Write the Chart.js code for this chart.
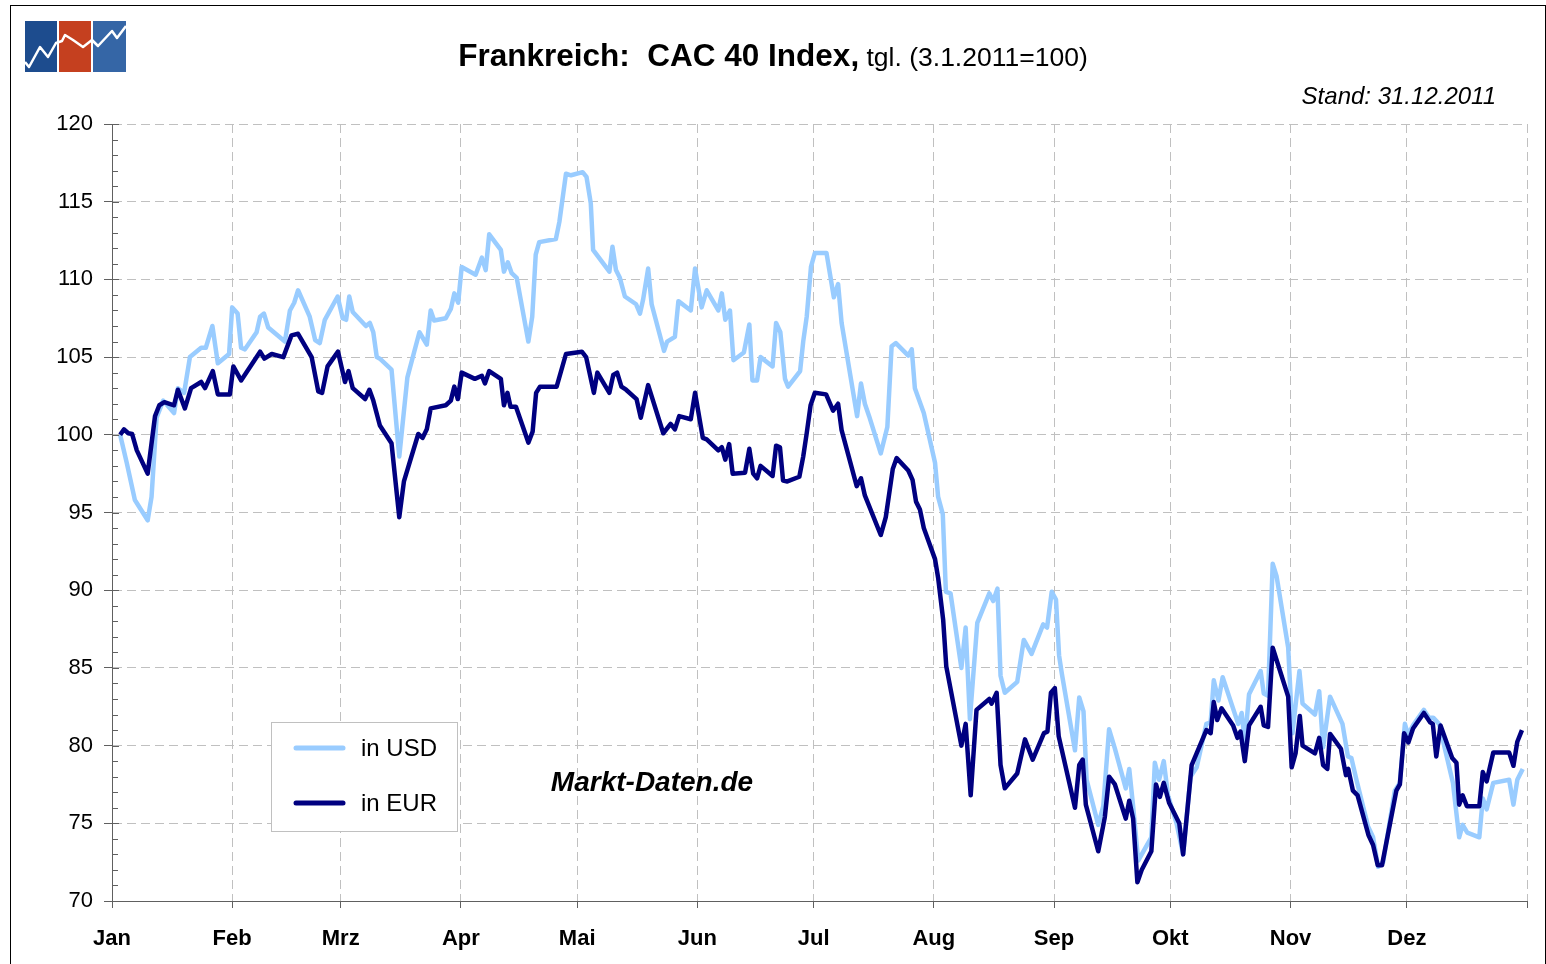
<!DOCTYPE html>
<html>
<head>
<meta charset="utf-8">
<title>CAC 40 Index 2011</title>
<script src="https://cdn.jsdelivr.net/npm/chart.js@4.4.1/dist/chart.umd.min.js"></script>
<style>
  html, body { margin: 0; padding: 0; background: #fff; overflow: hidden; }
  #wrap { position: relative; width: 1546px; height: 964px; }
  #frame { position: absolute; left: 10px; top: 5px; width: 1534px; height: 1000px; border: 1px solid #000; pointer-events: none; }
  #logo { position: absolute; left: 25px; top: 21px; }
</style>
</head>
<body>
<div id="wrap">
  <canvas id="cacChart" width="1546" height="964"></canvas>
  <svg id="logo" width="102" height="51" viewBox="0 0 102 51">
    <rect x="0" y="0" width="32" height="51" fill="#1d4c8e"/>
    <rect x="34" y="0" width="32" height="51" fill="#c5401f"/>
    <rect x="68" y="0" width="33" height="51" fill="#3566a6"/>
    <polyline points="0,41 4,46 15,26 23,36 31,22 37,20 40,14 48,19 58,26 67,19 73,25 87,10 92,17 101,5"
              fill="none" stroke="#fff" stroke-width="2.5" stroke-linejoin="round"/>
  </svg>
  <div id="frame"></div>
</div>
<script>
// x = day of year 2011 (0 = 1 Jan), values indexed 3.1.2011 = 100
const monthLabels = ['Jan', 'Feb', 'Mrz', 'Apr', 'Mai', 'Jun', 'Jul', 'Aug', 'Sep', 'Okt', 'Nov', 'Dez'];
const monthStarts = [0, 31, 59, 90, 120, 151, 181, 212, 243, 273, 304, 334, 365];

const usdDays = [
  2.1, 3.8, 5.9, 9.2, 10.2, 11.5, 13.2, 16, 17, 18.6,
  20.1, 23, 24.2, 25.9, 27.3, 30.2, 31, 32.4, 33.3, 34.3,
  37.3, 38.2, 39.2, 40.3, 44.6, 45.9, 47, 48, 51, 52.4,
  53.6, 54.9, 58.2, 59.5, 60.4, 61.2, 62.1, 65.5, 66.5, 67.4,
  68.3, 69.1, 72.1, 74.1, 76.2, 79.3, 81.2, 82.2, 83.1, 86.1,
  87.4, 88.3, 89.3, 90.2, 93.8, 95.4, 96.4, 97.3, 100.3, 101.1,
  102.1, 103.1, 104.4, 107.4, 108.4, 109.3, 110.2, 114.5, 115.4, 117.1,
  118.4, 121.4, 122.4, 123.5, 124.1, 128.3, 129.1, 130, 131, 132.3,
  135.2, 136.2, 137, 138.3, 139.2, 142.4, 143.2, 145.2, 146.1, 149.3,
  150.4, 152.1, 153.4, 156.4, 157.3, 158.2, 159.4, 160.3, 163, 164.4,
  165.2, 166.4, 167.3, 170.4, 171.3, 172.4, 173.6, 174.4, 177.5, 178.3,
  179.2, 180.3, 181.3, 184.3, 186.2, 187.3, 188.2, 192.2, 193.2, 194.2,
  195.3, 198.3, 200, 201.1, 202.2, 205.4, 206.3, 207.1, 209.4, 212.3,
  213.1, 214.3, 215.1, 216.3, 219.1, 220.2, 221.3, 223.2, 226.3, 227.3,
  228.4, 229.2, 230.3, 233.5, 235.2, 237.2, 240.2, 241.2, 242.4, 243.5,
  244.3, 245, 248.4, 249.5, 250.6, 251.4, 254.4, 255.7, 257.2, 258.7,
  261.5, 262.4, 263.4, 264.7, 268.1, 269, 270.1, 271.3, 272.4, 274.6,
  276.3, 278.2, 279.8, 282.3, 283.4, 284.2, 285.4, 286.5, 290.5, 291.4,
  292.2, 293.3, 296.3, 297.1, 298.2, 299.4, 300.4, 303.4, 304.5, 306.3,
  307.1, 310.3, 311.4, 312.4, 314.2, 317.4, 318.8, 319.7, 321, 324,
  325.3, 326.6, 327.9, 330.9, 332.2, 333.5, 334.3, 335.6, 338.4, 339.7,
  340.8, 342.3, 345.9, 347.5, 348.4, 349.6, 352.7, 353.6, 354.6, 356.3,
  360.4, 361.5, 362.5, 363.9
];
const usdValues = [
  100, 98.2, 95.8, 94.5, 96.0, 101.1, 102.2, 101.4, 103.0, 102.7,
  105.0, 105.6, 105.6, 107.0, 104.6, 105.2, 108.2, 107.8, 105.6, 105.5,
  106.6, 107.6, 107.8, 106.9, 106.0, 108.0, 108.5, 109.3, 107.6, 106.1,
  105.9, 107.4, 108.9, 107.5, 107.4, 108.9, 107.9, 107.0, 107.2, 106.6,
  105.0, 104.9, 104.2, 98.6, 103.7, 106.6, 105.8, 108.0, 107.35, 107.5,
  108.1, 109.1, 108.5, 110.8, 110.3, 111.4, 110.6, 112.9, 111.9, 110.5,
  111.1, 110.4, 110.1, 106.0, 107.6, 111.6, 112.4, 112.6, 113.7, 116.8,
  116.7, 116.9, 116.6, 114.9, 111.9, 110.5, 112.1, 110.6, 110.1, 108.9,
  108.4, 107.8, 108.7, 110.7, 108.4, 105.4, 106.0, 106.3, 108.6, 108.0,
  110.7, 108.2, 109.3, 108.0, 109.1, 107.4, 108.0, 104.8, 105.3, 107.1,
  103.5, 103.5, 105.0, 104.4, 107.2, 106.6, 103.6, 103.1, 104.1, 106.0,
  107.6, 110.8, 111.7, 111.7, 108.85, 109.7, 107.2, 101.2, 103.3, 102.0,
  101.2, 98.8, 100.5, 105.7, 105.9, 105.1, 105.5, 103.0, 101.4, 98.2,
  96.0, 94.9, 89.9, 89.8, 85.0, 87.6, 81.7, 87.9, 89.8, 89.3,
  90.1, 84.5, 83.4, 84.1, 86.8, 85.9, 87.8, 87.6, 89.9, 89.4,
  85.8, 84.65, 79.7, 83.1, 82.2, 77.8, 74.9, 76.1, 81.05, 79.8,
  77.25, 78.5, 76.1, 72.6, 74.1, 78.9, 77.8, 79.0, 76.8, 75.0,
  73.0, 78.0, 78.6, 81.4, 81.5, 84.2, 82.9, 84.4, 81.4, 82.1,
  80.2, 83.3, 84.8, 83.35, 83.2, 91.7, 90.9, 86.3, 80.8, 84.8,
  82.7, 82.0, 83.5, 79.9, 83.15, 81.4, 79.3, 79.2, 77.8, 74.8,
  74.1, 72.2, 72.5, 77.1, 77.6, 81.4, 80.7, 81.3, 82.3, 81.8,
  81.8, 81.4, 77.6, 74.1, 74.9, 74.4, 74.1, 76.6, 75.9, 77.6,
  77.8, 76.2, 77.8, 78.5
];

const eurDays = [
  2.1, 3.1, 4.2, 5.2, 6.4, 9.2, 11.1, 12.2, 13.5, 16,
  17, 18.8, 20.4, 23, 24, 26, 27.3, 30.4, 31.3, 33.3,
  38.2, 39.3, 41.2, 44.2, 46.3, 48, 51.5, 53.2, 54.2, 55.6,
  58.3, 60.1, 61, 62.1, 65.3, 66.4, 67.4, 69.1, 72.1, 74.1,
  75.3, 79, 80.1, 81.2, 82.2, 86.1, 87.4, 88.3, 89.2, 90.2,
  93.6, 95.4, 96.2, 97.3, 100.3, 101.1, 102, 102.8, 104.2, 107.4,
  108.5, 109.4, 110.4, 114.7, 117.1, 121.2, 122.3, 124.3, 125.2, 128.3,
  129.3, 130.3, 131.4, 132.6, 135.3, 136.4, 138.3, 142.2, 144.1, 145.2,
  146.3, 149.3, 150.4, 152.4, 153.4, 156.4, 157.3, 158.2, 159.2, 160.1,
  163.3, 164.4, 165.4, 166.4, 167.3, 170.4, 171.3, 172.3, 173.1, 174.2,
  177.3, 178.3, 179.2, 180.2, 181.3, 184.2, 186, 187.3, 188.2, 192.1,
  193.2, 194.2, 198.3, 199.6, 201.4, 202.4, 205.4, 206.5, 207.4, 208.4,
  209.4, 212.3, 213.1, 214.4, 215.2, 219.1, 220.2, 221.5, 223, 226.3,
  226.9, 228.2, 229.2, 230.3, 233.5, 235.5, 237.5, 240.4, 241.3, 242.2,
  243.2, 244.2, 248.4, 249.5, 250.4, 251.2, 254.4, 256.1, 257.2, 258.7,
  261.5, 262.4, 263.4, 264.5, 265.6, 268.1, 269.3, 270.3, 271.3, 272.7,
  275.3, 276.3, 278.5, 282.3, 283.4, 284.2, 285.1, 286.2, 289.2, 290.3,
  291.1, 292.2, 293.3, 296.3, 297.1, 298.2, 299.4, 303.4, 304.3, 305.3,
  306.4, 307.1, 310.3, 311.4, 312.4, 313.5, 314.2, 317, 318.3, 318.9,
  320.1, 321.3, 324.1, 325.3, 326.5, 327.6, 331.3, 332.2, 333.3, 334.4,
  335.6, 338.4, 340, 340.7, 341.6, 342.7, 345.7, 346.8, 347.5, 348.4,
  349.5, 352.7, 353.6, 354.6, 356.3, 360.4, 361.5, 362.5, 363.7
];
const eurValues = [
  100, 100.35, 100.1, 100.05, 99.0, 97.5, 101.2, 101.9, 102.1, 101.9,
  102.9, 101.7, 103.0, 103.4, 103.0, 104.1, 102.6, 102.6, 104.4, 103.5,
  105.35, 104.9, 105.2, 105.0, 106.4, 106.5, 105.0, 102.8, 102.7, 104.4,
  105.35, 103.4, 104.1, 103.0, 102.3, 102.9, 102.2, 100.6, 99.45, 94.7,
  97.0, 100.05, 99.8, 100.35, 101.7, 101.9, 102.2, 103.1, 102.3, 104.0,
  103.6, 103.8, 103.3, 104.1, 103.6, 101.9, 102.7, 101.8, 101.8, 99.5,
  100.2, 102.7, 103.1, 103.1, 105.2, 105.35, 105.0, 102.7, 104.0, 102.7,
  103.85, 104.0, 103.1, 102.9, 102.3, 101.1, 103.2, 100.1, 100.7, 100.35,
  101.2, 101.0, 102.7, 99.8, 99.7, 99.0, 99.2, 98.4, 99.4, 97.5,
  97.56, 99.1, 97.5, 97.2, 98.0, 97.35, 99.3, 99.2, 97.05, 97.0,
  97.3, 98.6, 100.1, 101.9, 102.7, 102.6, 101.55, 102.0, 100.3, 96.7,
  97.2, 96.1, 93.55, 94.7, 97.8, 98.5, 97.7, 97.1, 95.7, 95.2,
  94.0, 92.0, 90.8, 88.1, 85.1, 80.0, 81.4, 76.8, 82.3, 83.0,
  82.7, 83.4, 78.75, 77.25, 78.2, 80.4, 79.1, 80.8, 80.9, 83.4,
  83.7, 80.6, 76.0, 78.75, 79.1, 76.2, 73.2, 75.4, 78.0, 77.5,
  75.3, 76.45, 75.3, 71.2, 72.0, 73.2, 77.5, 76.7, 77.6, 76.3,
  75.0, 73.0, 78.75, 81.0, 80.8, 82.8, 81.65, 82.4, 81.3, 80.5,
  80.9, 79.0, 81.3, 82.5, 81.3, 81.2, 86.3, 83.15, 78.6, 79.5,
  81.9, 80.0, 79.5, 80.5, 78.75, 78.5, 80.75, 79.8, 78.1, 78.5,
  77.1, 76.8, 74.25, 73.6, 72.3, 72.3, 77.1, 77.5, 80.8, 80.2,
  81.1, 82.1, 81.5, 81.4, 79.3, 81.3, 79.2, 78.9, 76.2, 76.8,
  76.1, 76.1, 78.3, 77.7, 79.55, 79.55, 78.7, 80.25, 81.0
];

const seriesNames = ['in USD', 'in EUR'];
const titleMain = 'Frankreich:  CAC 40 Index,';
const titleSub = 'tgl. (3.1.2011=100)';
const standText = 'Stand: 31.12.2011';
const sourceText = 'Markt-Daten.de';

const FONT = '"Liberation Sans", Arial, sans-serif';
const usdColor = '#99ccff';
const eurColor = '#000080';
const axisColor = '#606060';
const gridColor = '#c0c0c0';

function toPoints(days, vals) {
  return days.map((d, i) => ({ x: d, y: vals[i] }));
}

const decorPlugin = {
  id: 'decor',
  beforeDraw(chart) {
    const ctx = chart.ctx;
    ctx.save();
    ctx.fillStyle = '#fff';
    ctx.fillRect(0, 0, chart.width, chart.height);
    ctx.restore();
  },
  afterDraw(chart) {
    const ctx = chart.ctx;
    const ys = chart.scales.y;
    const left = chart.chartArea.left;
    ctx.save();

    // inner major + minor ticks on the value axis
    ctx.strokeStyle = axisColor;
    ctx.lineWidth = 1;
    for (let v = ys.min; v <= ys.max; v++) {
      const py = Math.round(ys.getPixelForValue(v)) + 0.5;
      ctx.beginPath();
      ctx.moveTo(left, py);
      ctx.lineTo(left + (v % 5 === 0 ? 7 : 6), py);
      ctx.stroke();
    }

    // title
    ctx.fillStyle = '#000';
    ctx.textBaseline = 'alphabetic';
    ctx.font = 'bold 31.5px ' + FONT;
    const w1 = ctx.measureText(titleMain).width;
    ctx.font = '26.5px ' + FONT;
    const w2 = ctx.measureText(' ' + titleSub).width;
    const x0 = 773 - (w1 + w2) / 2;
    ctx.font = 'bold 31.5px ' + FONT;
    ctx.textAlign = 'left';
    ctx.fillText(titleMain, x0, 66);
    ctx.font = '26.5px ' + FONT;
    ctx.fillText(' ' + titleSub, x0 + w1, 66);

    // date stamp
    ctx.font = 'italic 24px ' + FONT;
    ctx.textAlign = 'right';
    ctx.fillText(standText, 1496, 104);

    // source
    ctx.font = 'italic bold 28px ' + FONT;
    ctx.textAlign = 'center';
    ctx.textBaseline = 'middle';
    ctx.fillText(sourceText, 652, 783);

    // legend box
    ctx.fillStyle = '#fff';
    ctx.fillRect(271, 722, 186, 109);
    ctx.strokeStyle = gridColor;
    ctx.lineWidth = 1;
    ctx.strokeRect(271.5, 722.5, 186, 109);
    const rows = [[usdColor, 748], [eurColor, 803]];
    ctx.lineCap = 'round';
    ctx.font = '24px ' + FONT;
    ctx.textAlign = 'left';
    rows.forEach((r, i) => {
      ctx.strokeStyle = r[0];
      ctx.lineWidth = 5;
      ctx.beginPath();
      ctx.moveTo(296, r[1]);
      ctx.lineTo(343, r[1]);
      ctx.stroke();
      ctx.fillStyle = '#000';
      ctx.fillText(seriesNames[i], 361, r[1] + 1);
    });
    ctx.restore();
  }
};

const ctx = document.getElementById('cacChart').getContext('2d');
const cacChart = new Chart(ctx, {
  type: 'line',
  data: {
    datasets: [{
      label: seriesNames[0],
      data: toPoints(usdDays, usdValues),
      borderColor: usdColor,
      borderWidth: 4.5,
      order: 1
    }, {
      label: seriesNames[1],
      data: toPoints(eurDays, eurValues),
      borderColor: eurColor,
      borderWidth: 4.5,
      order: 0
    }]
  },
  options: {
    responsive: false,
    animation: false,
    devicePixelRatio: 1,
    layout: { padding: { left: 0, right: 19, top: 124, bottom: 0 } },
    elements: {
      point: { radius: 0, hoverRadius: 0 },
      line: { tension: 0, fill: false, borderJoinStyle: 'round' }
    },
    plugins: {
      legend: { display: false },
      title: { display: false },
      tooltip: { enabled: false }
    },
    scales: {
      x: {
        type: 'linear',
        min: 0,
        max: 365,
        afterBuildTicks: (s) => { s.ticks = monthStarts.map(v => ({ value: v })); },
        afterFit: (s) => { s.height = 63; },
        ticks: {
          autoSkip: false,
          maxRotation: 0,
          padding: 18,
          color: '#000',
          font: { family: FONT, size: 22, weight: 'bold' },
          callback: (v, i) => monthLabels[i] || ''
        },
        grid: { color: gridColor, lineWidth: 1, tickLength: 7, tickColor: axisColor },
        border: { color: axisColor, width: 1, dash: [9, 5] }
      },
      y: {
        min: 70,
        max: 120,
        afterFit: (s) => { s.width = 112; },
        ticks: {
          stepSize: 5,
          padding: 11,
          color: '#000',
          font: { family: FONT, size: 22 }
        },
        grid: { color: gridColor, lineWidth: 1, tickLength: 8, tickColor: axisColor },
        border: { color: axisColor, width: 1, dash: [9, 5] }
      }
    }
  },
  plugins: [decorPlugin]
});
</script>
</body>
</html>
